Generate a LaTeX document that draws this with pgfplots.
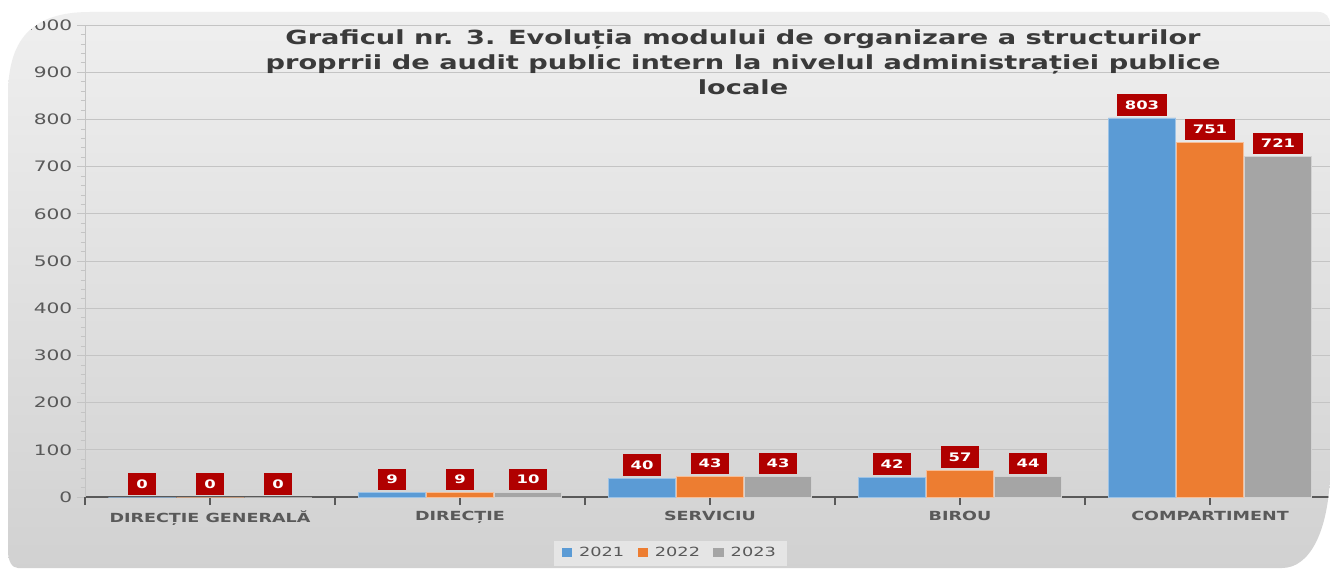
\documentclass[border=0pt]{standalone}
\usepackage{fontspec}
\setmainfont{DejaVu Sans}[FakeStretch=1.4]
\usepackage{pgfplots}
\pgfplotsset{compat=1.18}
\definecolor{cblue}{HTML}{5B9BD5}
\definecolor{corange}{HTML}{ED7D31}
\definecolor{cgray}{HTML}{A5A5A5}
\definecolor{labred}{HTML}{B00000}
\definecolor{txtgray}{HTML}{595959}
\definecolor{titgray}{HTML}{3A3A3A}
\definecolor{gridc}{HTML}{C4C4C4}
\begin{document}
\begin{tikzpicture}[x=0.75pt,y=0.75pt]
\useasboundingbox (0,0) rectangle (1330,571);
\fill[white] (0,0) rectangle (1330,571);
\clip (8,20) -- (8,475) .. controls (8,530) and (30,559) .. (90,559) -- (1318,559)
  .. controls (1326,559) and (1330,554) .. (1330,546)
  -- (1330,95) .. controls (1328,40) and (1310,3) .. (1282,3) -- (18,3)
  .. controls (12,3) and (8,10) .. (8,20) -- cycle;
\shade[top color=white!94!black, bottom color=white!82!black] (0,0) rectangle (1330,571);
\begin{axis}[
  at={(63.75pt,55.5pt)}, anchor=south west,
  scale only axis, width=933.75pt, height=354pt,
  xmin=-0.5, xmax=4.48, ymin=0, ymax=1000,
  ybar, bar width=0.27,
  axis lines*=left,
  x axis line style={color=txtgray, line width=1.5pt},
  y axis line style={color=gridc, line width=0.6pt},
  xtick={0,1,2,3,4},
  xticklabels={DIRECȚIE GENERALĂ, DIRECȚIE, SERVICIU, BIROU, COMPARTIMENT},
  extra x ticks={-0.5,0.5,1.5,2.5,3.5},
  extra x tick labels={},
  ytick={0,100,...,1000},
  minor y tick num=4,
  major tick length=6pt, minor tick length=3pt,
  tick align=outside,
  xtick style={color=txtgray, line width=1.5pt},
  ytick style={color=gridc, line width=0.5pt},
  ymajorgrids, grid style={color=gridc, line width=0.6pt},
  xticklabel style={font=\bfseries\fontsize{9.4}{11}\selectfont, text=txtgray, yshift=-1pt},
  yticklabel style={font=\fontsize{10.8}{12}\selectfont, text=txtgray,
     /pgf/number format/1000 sep={}},
  /pgf/number format/assume math mode=true,
  nodes near coords,
  every node near coord/.append style={fill=labred, text=white,
     font=\bfseries\fontsize{8.8}{10}\selectfont, text height=6.4pt, text depth=0pt,
     inner xsep=6pt, inner ysep=4.8pt, anchor=south, yshift=1.5pt},
  legend style={at={(0.47,-0.119)}, anchor=center, legend columns=3,
     draw=none, fill=white!90!black, font=\fontsize{9.5}{11}\selectfont, text=txtgray,
     inner xsep=6pt, inner ysep=3pt,
     /tikz/every odd column/.append style={column sep=3pt},
     /tikz/every even column/.append style={column sep=8pt}},
  legend image code/.code={\fill[#1,draw=none] (0pt,-3pt) rectangle (8pt,4pt);},
]
\addplot[fill=cblue, draw=cblue!60!white, line width=0.6pt, bar shift=-0.272] coordinates {(0,0) (1,9) (2,40) (3,42) (4,803)};
\addplot[fill=corange, draw=corange!50!white, line width=0.6pt, bar shift=0] coordinates {(0,0) (1,9) (2,43) (3,57) (4,751)};
\addplot[fill=cgray, draw=cgray!50!white, line width=0.6pt, bar shift=0.272] coordinates {(0,0) (1,10) (2,43) (3,44) (4,721)};
\legend{2021, 2022, 2023}
\end{axis}
\node[align=center, text=titgray, font=\bfseries\fontsize{14.6}{18.75}\selectfont]
  at (743,509) {Graficul nr. 3. Evoluția modului de organizare a structurilor\\
  proprrii de audit public intern la nivelul administrației publice\\ locale};
\end{tikzpicture}
\end{document}
